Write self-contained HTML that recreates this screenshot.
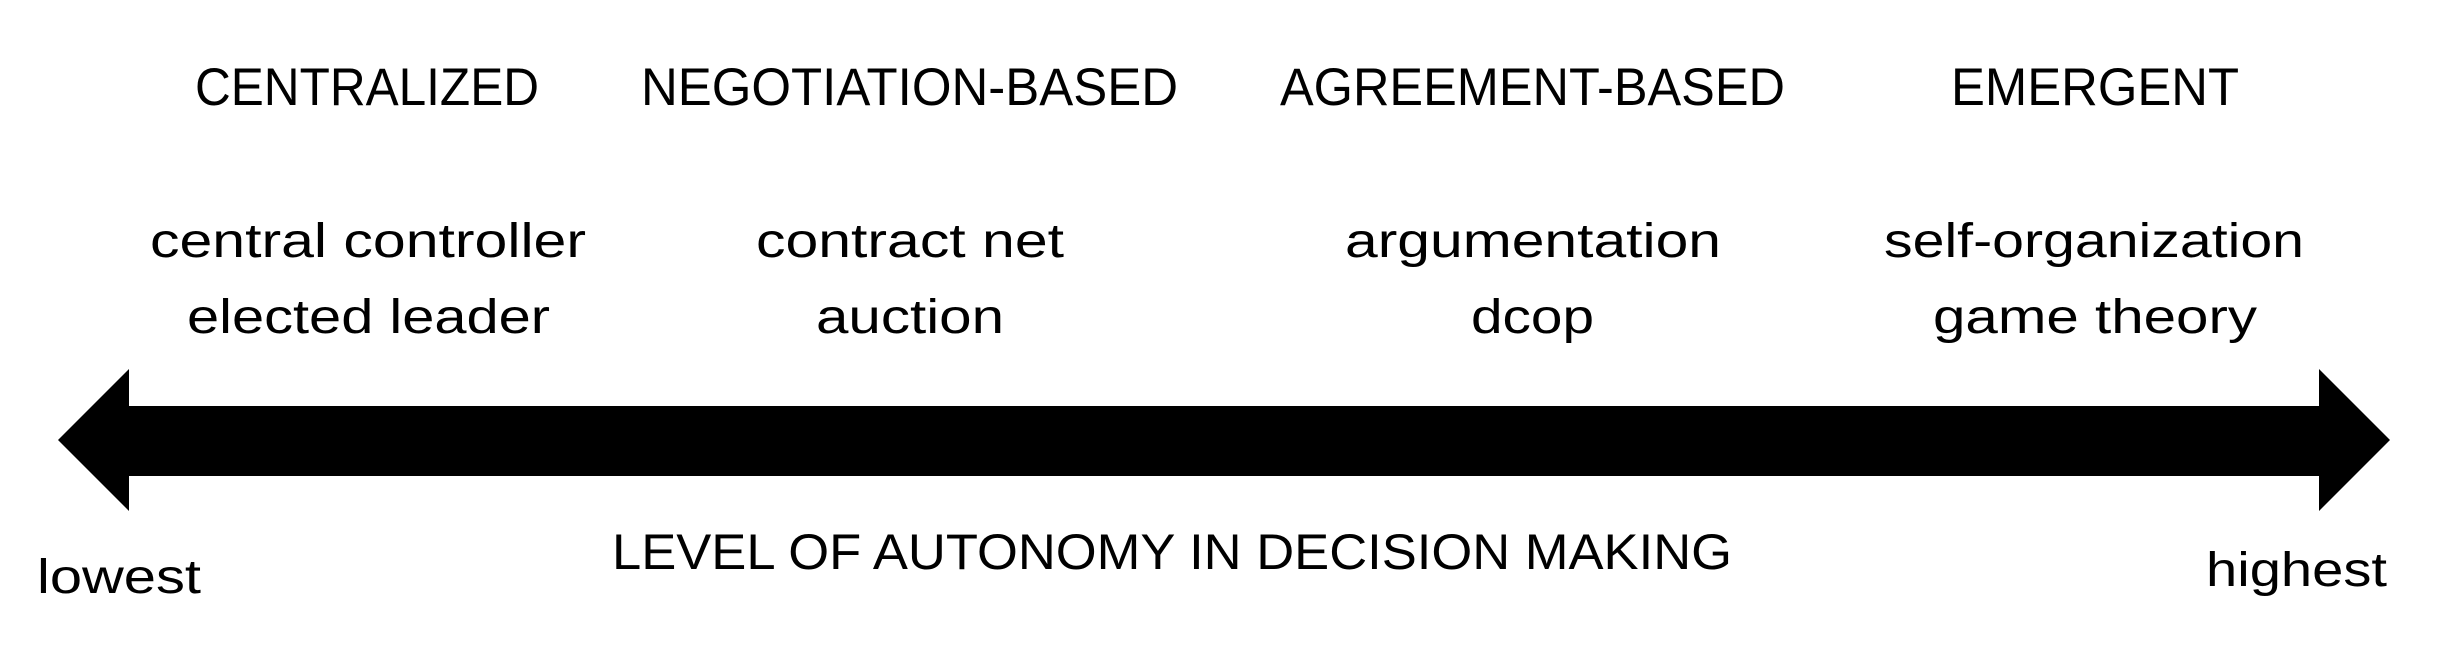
<!DOCTYPE html>
<html><head><meta charset="utf-8"><style>html,body{margin:0;padding:0;background:#fff;width:2444px;height:666px;overflow:hidden}</style></head>
<body>
<svg width="2444" height="666" viewBox="0 0 2444 666" xmlns="http://www.w3.org/2000/svg" font-family="Liberation Sans, sans-serif" fill="#000">
<polygon points="58,440 129,369 129,406 2319,406 2319,369 2390,440 2319,511 2319,476 129,476 129,511"/>
<g font-size="53">
<text x="195" y="105" textLength="344" lengthAdjust="spacingAndGlyphs">CENTRALIZED</text>
<text x="641" y="105" textLength="537" lengthAdjust="spacingAndGlyphs">NEGOTIATION-BASED</text>
<text x="1280" y="105" textLength="505" lengthAdjust="spacingAndGlyphs">AGREEMENT-BASED</text>
<text x="1951" y="105" textLength="288" lengthAdjust="spacingAndGlyphs">EMERGENT</text>
</g>
<g font-size="48">
<text x="150" y="257" textLength="436" lengthAdjust="spacingAndGlyphs">central controller</text>
<text x="187" y="333" textLength="363" lengthAdjust="spacingAndGlyphs">elected leader</text>
<text x="756" y="257" textLength="308" lengthAdjust="spacingAndGlyphs">contract net</text>
<text x="816" y="333" textLength="188" lengthAdjust="spacingAndGlyphs">auction</text>
<text x="1345" y="257" textLength="376" lengthAdjust="spacingAndGlyphs">argumentation</text>
<text x="1471" y="333" textLength="123" lengthAdjust="spacingAndGlyphs">dcop</text>
<text x="1884" y="257" textLength="420" lengthAdjust="spacingAndGlyphs">self-organization</text>
<text x="1933" y="333" textLength="324" lengthAdjust="spacingAndGlyphs">game theory</text>
<text x="37" y="593" textLength="164" lengthAdjust="spacingAndGlyphs">lowest</text>
<text x="2206" y="586" textLength="181" lengthAdjust="spacingAndGlyphs">highest</text>
</g>
<text x="612" y="569" font-size="50" textLength="1120" lengthAdjust="spacingAndGlyphs">LEVEL OF AUTONOMY IN DECISION MAKING</text>
</svg>
</body></html>
